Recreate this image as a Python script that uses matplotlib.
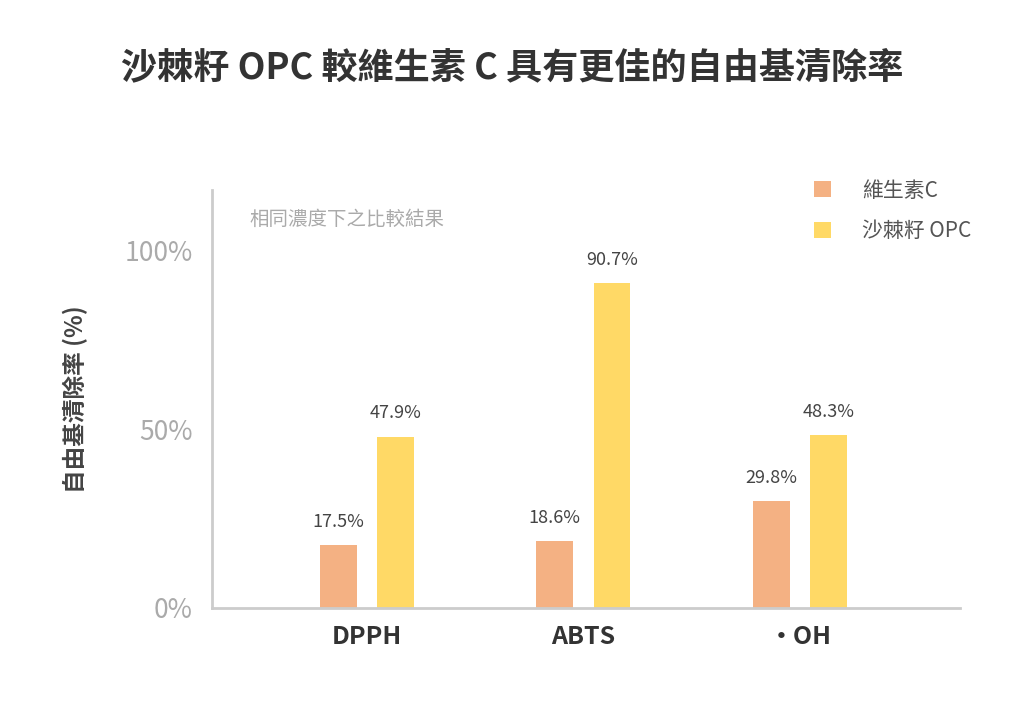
import matplotlib
matplotlib.use("Agg")
import matplotlib.pyplot as plt
import numpy as np

plt.rcParams['font.family'] = ['Noto Sans CJK TC', 'DejaVu Sans']

categories = ["DPPH", "ABTS", "·OH"]
vitc = [17.5, 18.6, 29.8]
opc = [47.9, 90.7, 48.3]
series_names = ["維生素C", "沙棘籽 OPC"]
yticks = [0, 50, 100]
ytick_labels = ["0%", "50%", "100%"]

fig = plt.figure(figsize=(10.24, 7.15), dpi=100)
ax = fig.add_axes([0.207, 0.1497, 0.7305, 0.5845])
x = np.arange(len(categories))
w = 0.17
c1, c2 = "#F4B183", "#FFD966"
b1 = ax.bar(x - 0.132, vitc, w, color=c1, label=series_names[0])
b2 = ax.bar(x + 0.132, opc, w, color=c2, label=series_names[1])
for bars, vals in ((b1, vitc), (b2, opc)):
    for r, v in zip(bars, vals):
        ax.text(r.get_x() + r.get_width()/2, v + 4, f"{v:.1f}%", ha="center",
                va="bottom", fontsize=13, color="#444444", fontweight="medium")
ax.set_xlim(-0.716, 2.74)
ax.set_ylim(0, 116.8)
ax.set_yticks(yticks)
ax.set_yticklabels(ytick_labels, fontsize=19, color="#AAAAAA", fontweight="medium")
ax.set_xticks(x)
ax.set_xticklabels(categories, fontsize=18, color="#333333", fontweight="bold")
ax.tick_params(length=0, pad=12)
ax.tick_params(axis='y', pad=14)
for s in ("top", "right"):
    ax.spines[s].set_visible(False)
for s in ("left", "bottom"):
    ax.spines[s].set_color("#CCCCCC")
    ax.spines[s].set_linewidth(2)
ax.set_ylabel("自由基清除率 (%)", fontsize=17, color="#444444", labelpad=26,
              fontweight="bold")
ax.text(0.05, 0.93, "相同濃度下之比較結果", transform=ax.transAxes,
        fontsize=14, color="#AAAAAA", va="center", fontweight="medium")
leg = ax.legend(loc="upper right", bbox_to_anchor=(1.04, 1.07), frameon=False,
          fontsize=15, labelcolor="#555555", handlelength=0.8, handleheight=0.8,
          labelspacing=0.9, handletextpad=1.5)
fig.text(0.5, 0.905, "沙棘籽 OPC 較維生素 C 具有更佳的自由基清除率", ha="center",
         va="center", fontsize=26, color="#333333", fontweight="bold")
fig.savefig("out.png", dpi=100)
